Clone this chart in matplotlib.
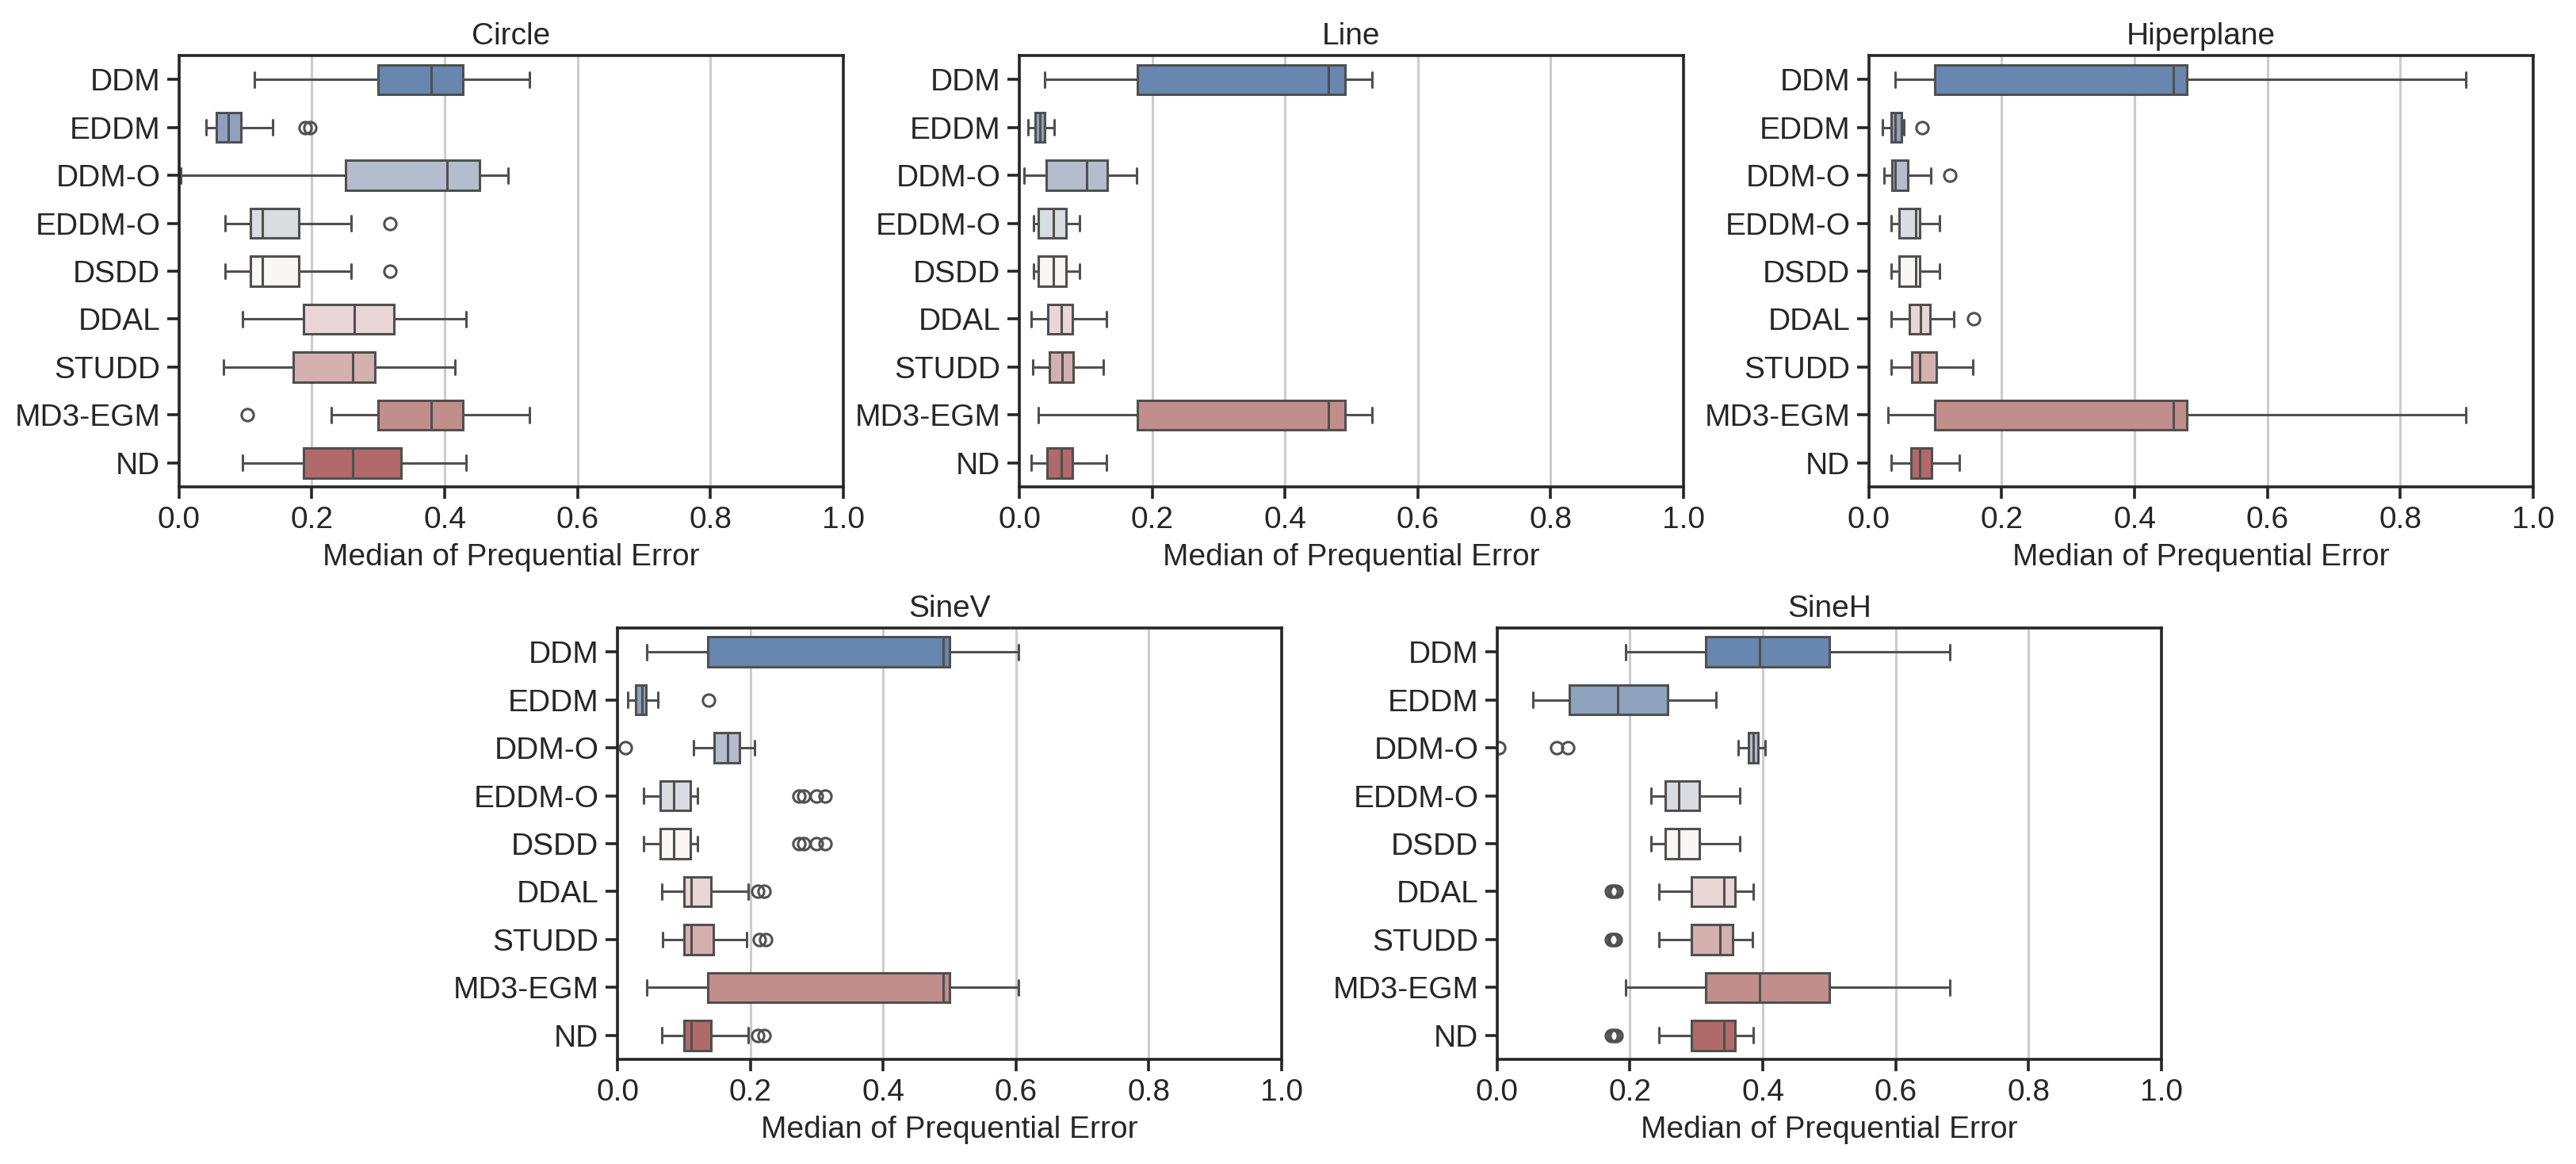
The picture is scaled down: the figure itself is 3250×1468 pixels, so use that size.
import matplotlib
matplotlib.use("Agg")
import matplotlib.pyplot as plt
import seaborn as sns

# methods, top to bottom
methods = ["DDM", "EDDM", "DDM-O", "EDDM-O", "DSDD", "DDAL", "STUDD", "MD3-EGM", "ND"]
titles = ["Circle", "Line", "Hiperplane", "SineV", "SineH"]

# box stats: whisker low, q1, median, q3, whisker high, outliers
circle_lo = [0.113, 0.041, 0.003, 0.069, 0.069, 0.096, 0.067, 0.229, 0.096]
circle_q1 = [0.300, 0.056, 0.251, 0.107, 0.107, 0.187, 0.172, 0.300, 0.187]
circle_med = [0.380, 0.074, 0.403, 0.126, 0.126, 0.264, 0.261, 0.380, 0.261]
circle_q3 = [0.427, 0.093, 0.453, 0.180, 0.180, 0.323, 0.295, 0.427, 0.334]
circle_hi = [0.528, 0.141, 0.495, 0.259, 0.259, 0.432, 0.416, 0.528, 0.432]
circle_out = [[], [0.190, 0.197], [], [0.318], [0.318], [], [], [0.103], []]

line_lo = [0.038, 0.013, 0.007, 0.021, 0.021, 0.018, 0.020, 0.029, 0.018]
line_q1 = [0.178, 0.024, 0.040, 0.029, 0.029, 0.043, 0.045, 0.178, 0.042]
line_med = [0.466, 0.031, 0.101, 0.051, 0.051, 0.063, 0.065, 0.466, 0.063]
line_q3 = [0.491, 0.038, 0.132, 0.070, 0.070, 0.080, 0.081, 0.491, 0.080]
line_hi = [0.531, 0.053, 0.177, 0.091, 0.091, 0.131, 0.127, 0.531, 0.131]
line_out = [[], [], [], [], [], [], [], [], []]

hiper_lo = [0.039, 0.021, 0.023, 0.034, 0.034, 0.033, 0.034, 0.029, 0.033]
hiper_q1 = [0.099, 0.033, 0.035, 0.046, 0.046, 0.061, 0.065, 0.099, 0.063]
hiper_med = [0.459, 0.040, 0.040, 0.070, 0.070, 0.078, 0.076, 0.459, 0.077]
hiper_q3 = [0.479, 0.049, 0.059, 0.077, 0.077, 0.092, 0.102, 0.479, 0.094]
hiper_hi = [0.899, 0.053, 0.093, 0.106, 0.106, 0.128, 0.156, 0.899, 0.136]
hiper_out = [[], [0.080], [0.122], [], [], [0.158], [], [], []]

sinev_lo = [0.044, 0.016, 0.115, 0.039, 0.039, 0.067, 0.068, 0.044, 0.067]
sinev_q1 = [0.136, 0.028, 0.145, 0.065, 0.065, 0.100, 0.100, 0.136, 0.100]
sinev_med = [0.490, 0.037, 0.166, 0.085, 0.085, 0.111, 0.111, 0.490, 0.111]
sinev_q3 = [0.500, 0.043, 0.184, 0.110, 0.110, 0.141, 0.144, 0.500, 0.141]
sinev_hi = [0.604, 0.061, 0.206, 0.120, 0.120, 0.197, 0.195, 0.604, 0.197]
sinev_out = [[], [0.137], [0.012], [0.273, 0.281, 0.299, 0.313], [0.273, 0.281, 0.299, 0.313],
             [0.211, 0.221], [0.214, 0.223], [], [0.211, 0.221]]

sineh_lo = [0.193, 0.054, 0.363, 0.232, 0.232, 0.244, 0.244, 0.193, 0.244]
sineh_q1 = [0.314, 0.109, 0.379, 0.253, 0.253, 0.293, 0.293, 0.314, 0.293]
sineh_med = [0.395, 0.181, 0.386, 0.274, 0.274, 0.342, 0.336, 0.395, 0.342]
sineh_q3 = [0.500, 0.257, 0.393, 0.304, 0.304, 0.358, 0.355, 0.500, 0.358]
sineh_hi = [0.682, 0.329, 0.403, 0.365, 0.365, 0.386, 0.385, 0.682, 0.386]
sineh_out = [[], [], [0.002, 0.090, 0.106], [], [], [0.172, 0.176, 0.179],
             [0.172, 0.175, 0.178], [], [0.172, 0.176, 0.179]]

stats_all = [
    (circle_lo, circle_q1, circle_med, circle_q3, circle_hi, circle_out),
    (line_lo, line_q1, line_med, line_q3, line_hi, line_out),
    (hiper_lo, hiper_q1, hiper_med, hiper_q3, hiper_hi, hiper_out),
    (sinev_lo, sinev_q1, sinev_med, sinev_q3, sinev_hi, sinev_out),
    (sineh_lo, sineh_q1, sineh_med, sineh_q3, sineh_hi, sineh_out),
]

sns.set_style("ticks")
plt.rcParams["font.family"] = ["Liberation Sans", "DejaVu Sans"]

colors = sns.color_palette("vlag", len(methods), desat=0.75)
line_col = "#505050"

fig = plt.figure(figsize=(16.25, 7.34), dpi=200)

w, h = 0.2578, 0.3706
positions = [
    [0.0695, 0.5817, w, h],
    [0.3957, 0.5817, w, h],
    [0.7255, 0.5817, w, h],
    [0.2397, 0.0899, w, h],
    [0.5812, 0.0899, w, h],
]

for pos, title, (lo, q1, med, q3, hi, out) in zip(positions, titles, stats_all):
    ax = fig.add_axes(pos)
    bxp_stats = []
    for i in range(len(methods)):
        bxp_stats.append({"whislo": lo[i], "q1": q1[i], "med": med[i], "q3": q3[i],
                          "whishi": hi[i], "fliers": out[i]})
    ypos = list(range(len(methods)))
    art = ax.bxp(bxp_stats, positions=ypos, widths=0.62, vert=False, patch_artist=True,
                 showfliers=True,
                 boxprops=dict(edgecolor=line_col, linewidth=1.1),
                 whiskerprops=dict(color=line_col, linewidth=1.1),
                 capprops=dict(color=line_col, linewidth=1.1),
                 medianprops=dict(color=line_col, linewidth=1.1),
                 flierprops=dict(marker="o", markerfacecolor="none", markeredgecolor=line_col,
                                 markersize=5.5, markeredgewidth=1.1))
    for patch, c in zip(art["boxes"], colors):
        patch.set_facecolor(c)
    ax.set_xlim(0, 1)
    ax.set_ylim(len(methods) - 0.5, -0.5)
    ax.set_yticks(ypos)
    ax.set_yticklabels(methods)
    ax.set_xticks([0.0, 0.2, 0.4, 0.6, 0.8, 1.0])
    ax.xaxis.grid(True, color="#cccccc", linewidth=1.1)
    ax.set_axisbelow(True)
    ax.tick_params(axis="both", labelsize=14, length=5.5, width=1.3, color="#262626",
                   labelcolor="#262626", pad=3)
    for s in ax.spines.values():
        s.set_linewidth(1.3)
        s.set_color("#262626")
    ax.set_title(title, fontsize=14, pad=5, color="#262626")
    ax.set_xlabel("Median of Prequential Error", fontsize=14, color="#262626")

fig.savefig("out.png", dpi=200)
